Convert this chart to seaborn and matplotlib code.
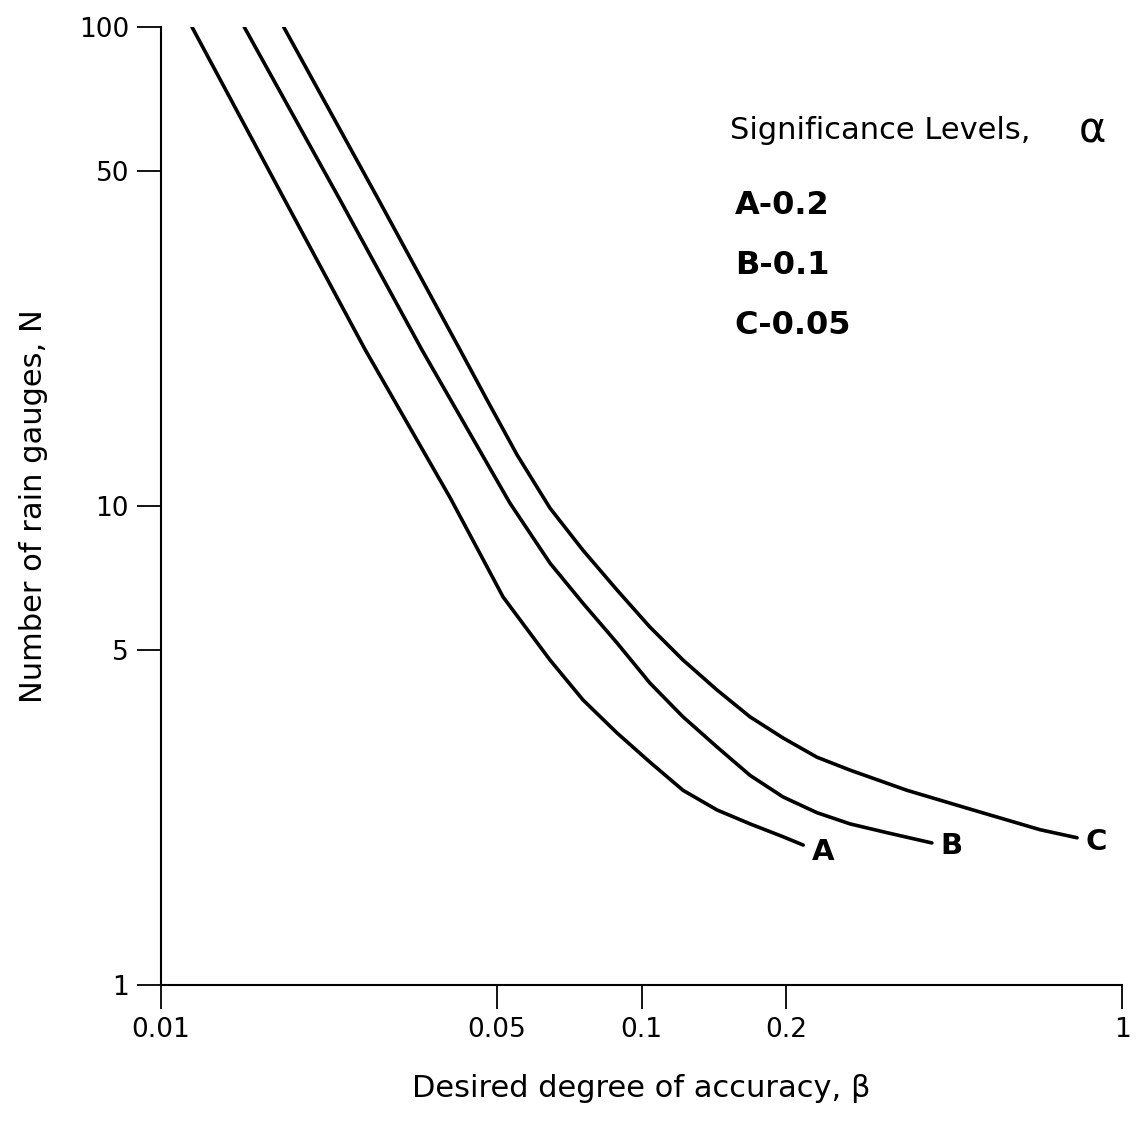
import pandas as pd
import matplotlib
matplotlib.use("Agg")
import matplotlib.pyplot as plt
import seaborn as sns

# --- data (beta, N) ---
alpha_labels = ["A-0.2", "B-0.1", "C-0.05"]

a_beta = [0.0116, 0.0181, 0.0266, 0.0400, 0.0457, 0.0515, 0.0645, 0.0755,
          0.0889, 0.1041, 0.122, 0.1436, 0.1682, 0.197, 0.217]
a_n = [100, 43.5, 21.2, 10.39, 8.09, 6.46, 4.77, 3.94,
       3.36, 2.92, 2.55, 2.32, 2.17, 2.04, 1.96]

b_beta = [0.0149, 0.0236, 0.0349, 0.0532, 0.0645, 0.0755, 0.0889, 0.1041, 0.122,
          0.1436, 0.1682, 0.197, 0.2318, 0.2716, 0.3243, 0.402]
b_n = [100, 43.5, 21.2, 10.15, 7.60, 6.27, 5.18, 4.27, 3.63,
       3.14, 2.74, 2.47, 2.29, 2.17, 2.08, 1.98]

c_beta = [0.0180, 0.0284, 0.0419, 0.0477, 0.0551, 0.0645, 0.0755, 0.0889, 0.1041, 0.122,
          0.1436, 0.1682, 0.197, 0.2318, 0.2716, 0.3568, 0.4897, 0.6752, 0.806]
c_n = [100, 43.5, 21.2, 16.65, 12.78, 9.9, 8.09, 6.68, 5.59, 4.77,
       4.13, 3.63, 3.28, 2.99, 2.81, 2.55, 2.32, 2.11, 2.03]

x_ticks = [0.01, 0.05, 0.1, 0.2, 1]
x_ticklabels = ["0.01", "0.05", "0.1", "0.2", "1"]
y_ticks = [1, 5, 10, 50, 100]
y_ticklabels = ["1", "5", "10", "50", "100"]

df = pd.concat([
    pd.DataFrame({"beta": a_beta, "N": a_n, "curve": "A"}),
    pd.DataFrame({"beta": b_beta, "N": b_n, "curve": "B"}),
    pd.DataFrame({"beta": c_beta, "N": c_n, "curve": "C"}),
], ignore_index=True)

# --- style ---
sns.set_theme(style="ticks")
plt.rcParams["font.family"] = ["DejaVu Sans"]
for k in ["text.color", "axes.labelcolor", "xtick.color", "ytick.color", "axes.edgecolor"]:
    plt.rcParams[k] = "black"

fig = plt.figure(figsize=(11.39, 11.43), dpi=100)
ax = fig.add_axes([0.1414, 0.1382, 0.8437, 0.8381])

sns.lineplot(data=df, x="beta", y="N", hue="curve", palette=["black"] * 3,
             estimator=None, sort=False, legend=False, linewidth=2.6, ax=ax)

ax.set_xscale("log")
ax.set_yscale("log")
ax.set_xlim(0.01, 1)
ax.set_ylim(1, 100)
ax.minorticks_off()
ax.set_xticks(x_ticks)
ax.set_xticklabels(x_ticklabels, fontsize=19)
ax.set_yticks(y_ticks)
ax.set_yticklabels(y_ticklabels, fontsize=19)
ax.tick_params(axis="both", direction="out", length=17, width=1.3, pad=6)

sns.despine(ax=ax)
for side in ["left", "bottom"]:
    ax.spines[side].set_linewidth(1.5)

ax.set_xlabel("Desired degree of accuracy, β", fontsize=22, labelpad=22)
ax.set_ylabel("Number of rain gauges, N", fontsize=22, labelpad=22)

# curve labels at the ends
ends = df.groupby("curve").tail(1)
offsets = {"A": (14, -5), "B": (14, -2), "C": (14, -3)}
for _, row in ends.iterrows():
    ax.annotate(row["curve"], xy=(row["beta"], row["N"]), xytext=offsets[row["curve"]],
                textcoords="offset points", ha="center", va="center",
                fontsize=21, fontweight="bold")

# significance levels note
ax.text(0.592, 0.8925, "Significance Levels,", transform=ax.transAxes,
        fontsize=22, va="center", ha="left")
ax.text(0.955, 0.8925, "α", transform=ax.transAxes,
        fontsize=30, va="center", ha="left")
for i, lab in enumerate(alpha_labels):
    ax.text(0.597, 0.814 - i * 0.0626, lab, transform=ax.transAxes,
            fontsize=23, fontweight="bold", va="center", ha="left")

fig.savefig("out.png", dpi=100, facecolor="white")
